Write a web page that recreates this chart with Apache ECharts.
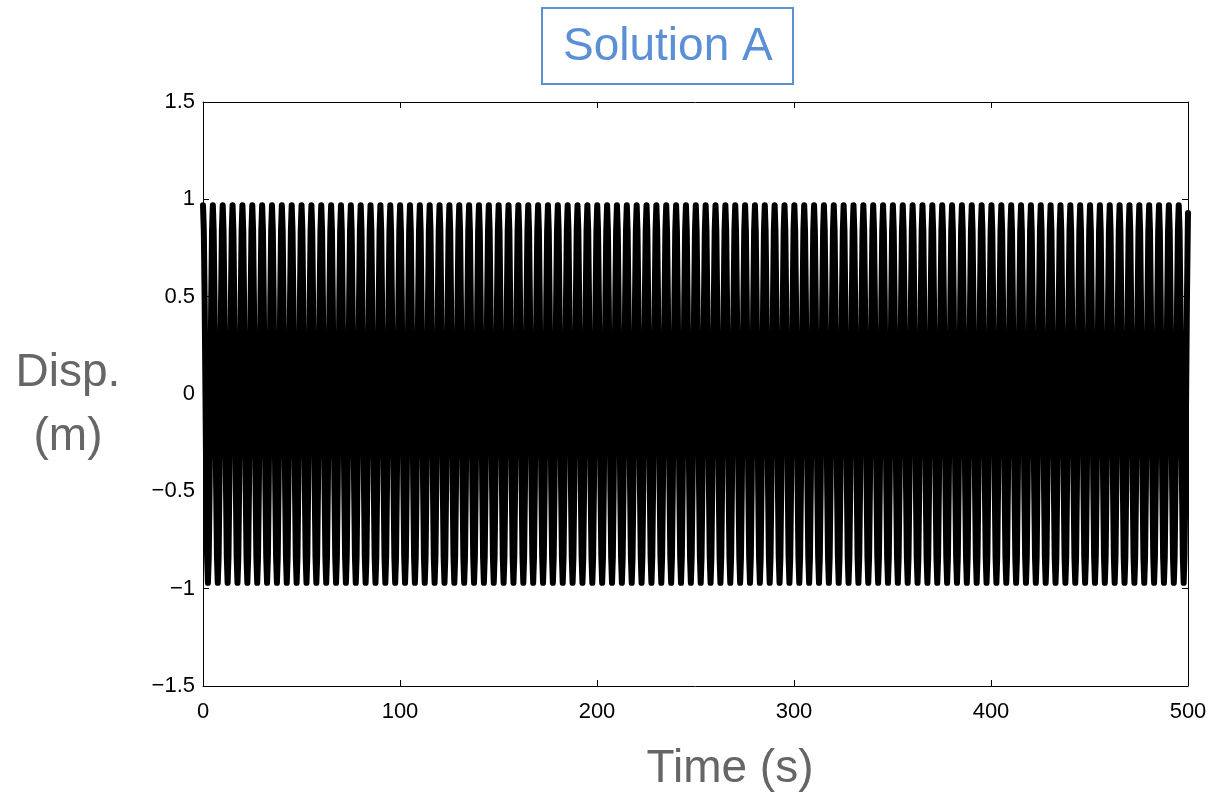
<!DOCTYPE html>
<html><head><meta charset="utf-8">
<script src="https://cdn.jsdelivr.net/npm/echarts@6/dist/echarts.min.js"></script>
<style>html,body{margin:0;padding:0;background:#fff}#c{width:1219px;height:795px}</style>
</head><body><div id="c"></div>
<script>
// ---- data ----
const titleText = 'Solution A';
const xName = 'Time (s)';
const yNameLines = ['Disp.', '(m)'];
const xTicks = [0, 100, 200, 300, 400, 500];
const yTicks = [-1.5, -1, -0.5, 0, 0.5, 1, 1.5];
const periodSec = 5.003;   // ~100 oscillation cycles between 0 and 500 s (peak at t=0 and ~495.3 s)
// one oscillation cycle, read at 12 equal phase steps (peak 0.97, trough -0.97)
const cycleShape = [0.97, 0.84, 0.485, 0, -0.485, -0.84, -0.97, -0.84, -0.485, 0, 0.485, 0.84];
const endValue = 0.93;     // displacement read at t = 500 s
const tEnd = 500;

// ---- build series data from the arrays above ----
const seriesData = [];
for (let k = 0; ; k++) {
  const t = k * periodSec / cycleShape.length;
  if (t >= tEnd) break;
  seriesData.push([t, cycleShape[k % cycleShape.length]]);
}
seriesData.push([tEnd, endValue]);

const FONT = '"Liberation Sans", Arial, Helvetica, sans-serif';
const fmt = v => String(v).replace('-', '\u2212');
const axisCommon = {
  type: 'value',
  axisLine: { show: true, onZero: false, lineStyle: { color: '#000', width: 1 } },
  axisTick: { show: true, inside: true, length: 6, lineStyle: { color: '#000', width: 1 } },
  splitLine: { show: false },
  minorTick: { show: false }
};

const chart = echarts.init(document.getElementById('c'), null, { renderer: 'canvas' });
chart.setOption({
  animation: false,
  backgroundColor: '#fff',
  title: {
    text: titleText,
    left: 542, top: 8,
    padding: [15, 21, 13, 21],
    borderColor: '#5b8fd6', borderWidth: 2,
    textStyle: { color: '#5b8fd6', fontSize: 46, fontWeight: 'normal', fontFamily: FONT, lineHeight: 48 }
  },
  grid: { left: 203, right: 31, top: 102, bottom: 109, containLabel: false },
  xAxis: [
    Object.assign({}, axisCommon, {
      min: xTicks[0], max: xTicks[xTicks.length - 1], interval: xTicks[1] - xTicks[0], position: 'bottom',
      axisLabel: { show: true, color: '#000', fontSize: 22, fontFamily: FONT, margin: 15, formatter: fmt }
    }),
    Object.assign({}, axisCommon, {
      min: xTicks[0], max: xTicks[xTicks.length - 1], interval: xTicks[1] - xTicks[0], position: 'top',
      axisLabel: { show: false }
    })
  ],
  yAxis: [
    Object.assign({}, axisCommon, {
      min: yTicks[0], max: yTicks[yTicks.length - 1], interval: yTicks[1] - yTicks[0], position: 'left',
      axisLabel: { show: true, color: '#000', fontSize: 22, fontFamily: FONT, margin: 8, formatter: fmt }
    }),
    Object.assign({}, axisCommon, {
      min: yTicks[0], max: yTicks[yTicks.length - 1], interval: yTicks[1] - yTicks[0], position: 'right',
      axisLabel: { show: false }
    })
  ],
  graphic: [
    { type: 'text', x: 68, y: 373, style: { text: yNameLines[0], fill: '#666', font: '46px ' + FONT, align: 'center', verticalAlign: 'middle' } },
    { type: 'text', x: 68, y: 437, style: { text: yNameLines[1], fill: '#666', font: '46px ' + FONT, align: 'center', verticalAlign: 'middle' } },
    { type: 'text', x: 730, y: 769, style: { text: xName, fill: '#666', font: '46px ' + FONT, align: 'center', verticalAlign: 'middle' } }
  ],
  series: [{
    type: 'line',
    xAxisIndex: 0, yAxisIndex: 0,
    data: seriesData,
    showSymbol: false,
    symbol: 'none',
    smooth: false,
    clip: true,
    lineStyle: { color: '#000', width: 6, cap: 'round', join: 'round' }
  }]
});
</script>
</body></html>
